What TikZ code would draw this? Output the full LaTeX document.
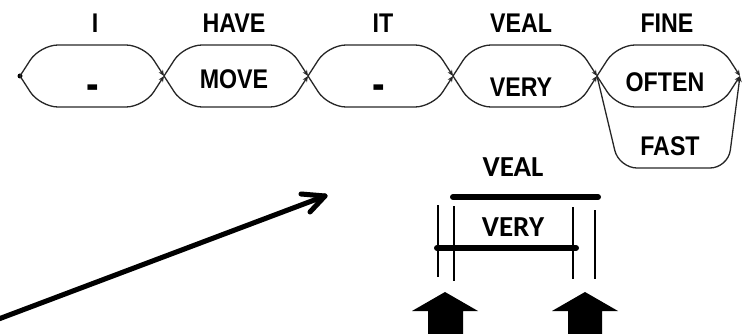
\documentclass[tikz,border=0pt]{standalone}
\usepackage{fontspec}
\setmainfont{Liberation Sans}
\newfontfamily\calfont{Carlito}
\usetikzlibrary{arrows.meta,calc}
\begin{document}
\begin{tikzpicture}[x=1pt,y=-1pt,
  lbl/.style={font=\bfseries\fontsize{27}{27}\selectfont, inner sep=0pt},
  clbl/.style={font=\calfont\bfseries\fontsize{29}{29}\selectfont, inner sep=0pt},
  lens/.style={line width=1.3pt, draw=black!85, rounded corners=18pt, -{Stealth[length=6pt,width=5pt]}},
  bar/.style={line width=6pt, line cap=round},
  tickline/.style={line width=1.6pt},
  bigarrow/.style={line width=5pt, line cap=round, line join=round},
  blockarrow/.style={fill=black}]
\useasboundingbox (0,0) rectangle (750,334);
\newcommand{\cw}[1]{\scalebox{0.86}[1]{#1}}

% junctions of the lattice
\coordinate (j0) at (20,76);
\coordinate (j1) at (164,76);
\coordinate (j2) at (308,76);
\coordinate (j3) at (453,76);
\coordinate (j4) at (597,76);
\coordinate (j5) at (740,76);
\fill (j0) circle (2.5pt);

\foreach \a/\b in {j0/j1,j1/j2,j2/j3,j3/j4,j4/j5}{
  \draw[lens] (\a) -- ($(\a)+(20,-31)$) -- ($(\b)+(-20,-31)$) -- (\b);
  \draw[lens] (\a) -- ($(\a)+(20,31)$) -- ($(\b)+(-20,31)$) -- (\b);
}
% FAST loop
\draw[lens, rounded corners=18pt] (j4) -- ($(j4)+(22,92)$) -- ($(j5)+(-12,92)$) -- (j5);

% labels
\node[lbl] (wI) at (95,23) {\cw{I}};
\node[lbl] (wHAVE) at (234,23) {\cw{HAVE}};
\node[lbl] (wIT) at (383,23) {\cw{IT}};
\node[lbl] (wVEAL) at (521,23) {\cw{VEAL}};
\node[lbl] (wFINE) at (667,23) {\cw{FINE}};
\node[lbl] (d1) at (93,92) {\scalebox{1.4}[1.7]{-}};
\node[lbl] (wMOVE) at (234,79) {\cw{MOVE}};
\node[lbl] (d2) at (379,92) {\scalebox{1.4}[1.7]{-}};
\node[lbl] (wVERY) at (521,87) {\cw{VERY}};
\node[lbl] (wOFTEN) at (665,82) {\cw{OFTEN}};
\node[lbl] (wFAST) at (670,146) {\cw{FAST}};

% alignment sketch
\node[clbl] (cVEAL) at (513,167) {VEAL};
\node[clbl] (cVERY) at (513,227) {VERY};
\coordinate (b1a) at (453,197);
\coordinate (b1b) at (598,197);
\coordinate (b2a) at (437,248);
\coordinate (b2b) at (576,248);
\draw[bar] (b1a) -- (b1b);
\draw[bar] (b2a) -- (b2b);
\draw[tickline] (438,205) -- (438,277);
\draw[tickline] (454,206) -- (454,281);
\draw[tickline] (573,207) -- (573,279);
\draw[tickline] (595,210) -- (595,279);

% block arrows
\fill[blockarrow] (445,292) -- (478,311) -- (463,311) -- (463,336) -- (428,336) -- (428,311) -- (412,311) -- cycle;
\fill[blockarrow] (585,292) -- (618,311) -- (602,311) -- (602,336) -- (568,336) -- (568,311) -- (552,311) -- cycle;

% big arrow with shadow
\coordinate (as) at (-4,320);
\coordinate (at) at (325,196);
\coordinate (a1) at (301,194);
\coordinate (a2) at (310,212);
\begin{scope}[shift={(2,3)}, opacity=0.5]
  \draw[bigarrow, black!30] (as) -- (at);
  \draw[bigarrow, black!30] (a1) -- (at) -- (a2);
\end{scope}
\draw[bigarrow] (as) -- (at);
\draw[bigarrow] (a1) -- (at) -- (a2);
\end{tikzpicture}
\end{document}
